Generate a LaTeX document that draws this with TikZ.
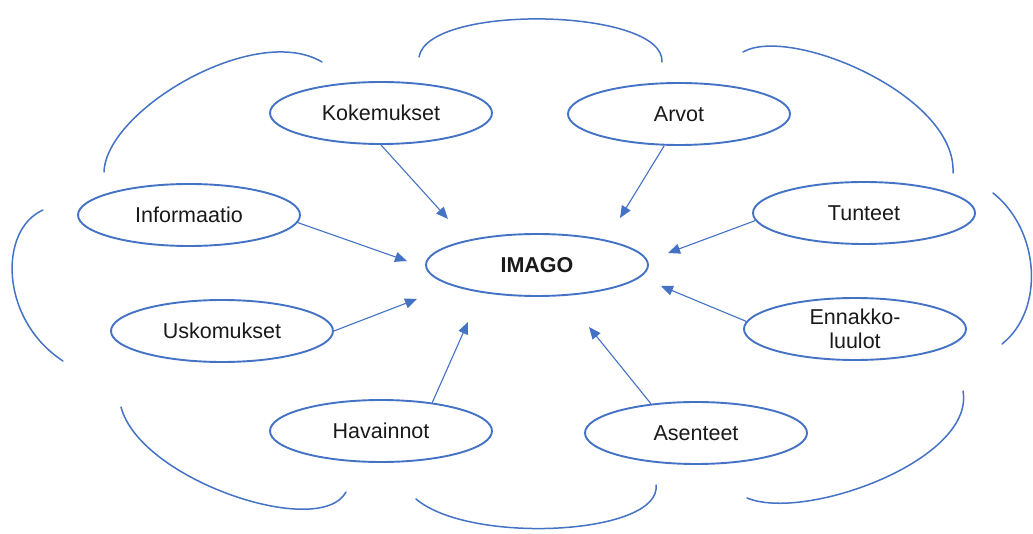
\documentclass[tikz,border=0pt]{standalone}
\usepackage{fontspec}
\setmainfont{Liberation Sans}
\usetikzlibrary{shapes.geometric,arrows.meta}
\definecolor{cblue}{HTML}{4472C4}
\definecolor{txt}{HTML}{1A1A1A}
\tikzset{
  bubble/.style={ellipse, draw=cblue, line width=1.9pt, minimum width=222pt, minimum height=62pt, inner sep=0pt,
    text=txt, font=\fontsize{21.5}{24.5}\selectfont, align=center},
  feed/.style={draw=cblue, line width=1.1pt, -{Triangle[length=12pt,width=10pt]}},
  cloud/.style={draw=cblue, line width=1.5pt, line cap=round}
}
\begin{document}
\begin{tikzpicture}[x=1pt,y=-1pt]
\useasboundingbox[fill=white] (0,0) rectangle (1033,534);
% cloud outline
\draw[cloud] (104,172) .. controls (106,110) and (255,22) .. (322,62);
\draw[cloud] (419,57) .. controls (428,3) and (665,8) .. (662,62);
\draw[cloud] (743,52) .. controls (790,25) and (957,95) .. (953,173);
\draw[cloud] (993,193) .. controls (1040,230) and (1045,310) .. (1002,344);
\draw[cloud] (963,391) .. controls (975,460) and (805,522) .. (747,498);
\draw[cloud] (656,485) .. controls (662,535) and (470,545) .. (416,499);
\draw[cloud] (121,407) .. controls (140,480) and (320,540) .. (346,492);
\draw[cloud] (43,210) .. controls (-2,230) and (0,320) .. (63,361);
% nodes
\node[bubble] (kok) at (381,113) {Kokemukset};
\node[bubble] (arv) at (679,114) {Arvot};
\node[bubble] (inf) at (189,215) {Informaatio};
\node[bubble] (tun) at (864,213) {Tunteet};
\node[bubble] (ima) at (537,265) {\bfseries IMAGO};
\node[bubble] (usk) at (222,331) {Uskomukset};
\node[bubble] (enn) at (855,329) {Ennakko-\\luulot};
\node[bubble] (hav) at (381,431) {Havainnot};
\node[bubble] (ase) at (696,433) {Asenteet};
% arrow tips
\coordinate (tk) at (448,219);
\coordinate (ta) at (620,218);
\coordinate (ti) at (407,261);
\coordinate (tt) at (668,253);
\coordinate (tu) at (417,299);
\coordinate (th) at (468,322);
\coordinate (te) at (661,286);
\coordinate (ts) at (589,327);
% connectors
\draw[feed] (kok.south) -- (tk);
\draw[feed] (arv.245) -- (ta);
\draw[feed] (inf.356) -- (ti);
\draw[feed] (tun.184) -- (tt);
\draw[feed] (usk.east) -- (tu);
\draw[feed] (hav.29) -- (th);
\draw[feed] (enn.176) -- (te);
\draw[feed] (ase.147) -- (ts);
\end{tikzpicture}
\end{document}
